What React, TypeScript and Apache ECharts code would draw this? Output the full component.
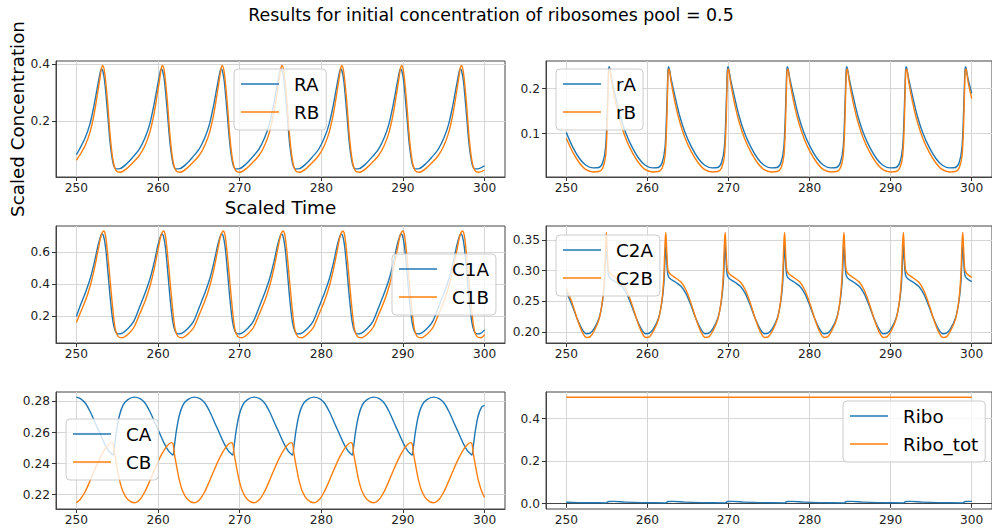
import React, { useEffect, useRef } from "react";
import * as echarts from "echarts";

const BLUE = "#1f77b4";
const ORANGE = "#ff7f0e";
const FONT = "DejaVu Sans";

// ---------- Panel 1: RA / RB ----------
const T1 = [
  250,
  250.36, 251.06, 251.66, 252.16, 252.61, 252.91, 253.06, 253.21, 253.46, 253.81, 254.16, 254.51, 254.86, 255.36, 256.16, 256.96,
  257.69, 258.39, 258.99, 259.49, 259.94, 260.24, 260.39, 260.54, 260.79, 261.14, 261.49, 261.84, 262.19, 262.69, 263.49, 264.29,
  265.01, 265.71, 266.31, 266.81, 267.26, 267.56, 267.71, 267.86, 268.11, 268.46, 268.81, 269.16, 269.51, 270.01, 270.81, 271.61,
  272.34, 273.04, 273.64, 274.14, 274.59, 274.89, 275.04, 275.19, 275.44, 275.79, 276.14, 276.49, 276.84, 277.34, 278.14, 278.94,
  279.66, 280.36, 280.96, 281.46, 281.91, 282.21, 282.36, 282.51, 282.76, 283.11, 283.46, 283.81, 284.16, 284.66, 285.46, 286.26,
  286.99, 287.69, 288.29, 288.79, 289.24, 289.54, 289.69, 289.84, 290.09, 290.44, 290.79, 291.14, 291.49, 291.99, 292.79, 293.59,
  294.31, 295.01, 295.61, 296.11, 296.56, 296.86, 297.01, 297.16, 297.41, 297.76, 298.11, 298.46, 298.81, 299.31,
  300,
];
const RA = [
  0.082,
  0.1, 0.14, 0.19, 0.255, 0.325, 0.37, 0.383, 0.378, 0.34, 0.23, 0.115, 0.05, 0.032, 0.033, 0.05, 0.075,
  0.1, 0.14, 0.19, 0.255, 0.325, 0.37, 0.383, 0.378, 0.34, 0.23, 0.115, 0.05, 0.032, 0.033, 0.05, 0.075,
  0.1, 0.14, 0.19, 0.255, 0.325, 0.37, 0.383, 0.378, 0.34, 0.23, 0.115, 0.05, 0.032, 0.033, 0.05, 0.075,
  0.1, 0.14, 0.19, 0.255, 0.325, 0.37, 0.383, 0.378, 0.34, 0.23, 0.115, 0.05, 0.032, 0.033, 0.05, 0.075,
  0.1, 0.14, 0.19, 0.255, 0.325, 0.37, 0.383, 0.378, 0.34, 0.23, 0.115, 0.05, 0.032, 0.033, 0.05, 0.075,
  0.1, 0.14, 0.19, 0.255, 0.325, 0.37, 0.383, 0.378, 0.34, 0.23, 0.115, 0.05, 0.032, 0.033, 0.05, 0.075,
  0.1, 0.14, 0.19, 0.255, 0.325, 0.37, 0.383, 0.378, 0.34, 0.23, 0.115, 0.05, 0.032, 0.033,
  0.043,
];
const RB = [
  0.062,
  0.078, 0.113, 0.16, 0.222, 0.3, 0.355, 0.384, 0.395, 0.37, 0.27, 0.14, 0.058, 0.026, 0.02, 0.033, 0.055,
  0.078, 0.113, 0.16, 0.222, 0.3, 0.355, 0.384, 0.395, 0.37, 0.27, 0.14, 0.058, 0.026, 0.02, 0.033, 0.055,
  0.078, 0.113, 0.16, 0.222, 0.3, 0.355, 0.384, 0.395, 0.37, 0.27, 0.14, 0.058, 0.026, 0.02, 0.033, 0.055,
  0.078, 0.113, 0.16, 0.222, 0.3, 0.355, 0.384, 0.395, 0.37, 0.27, 0.14, 0.058, 0.026, 0.02, 0.033, 0.055,
  0.078, 0.113, 0.16, 0.222, 0.3, 0.355, 0.384, 0.395, 0.37, 0.27, 0.14, 0.058, 0.026, 0.02, 0.033, 0.055,
  0.078, 0.113, 0.16, 0.222, 0.3, 0.355, 0.384, 0.395, 0.37, 0.27, 0.14, 0.058, 0.026, 0.02, 0.033, 0.055,
  0.078, 0.113, 0.16, 0.222, 0.3, 0.355, 0.384, 0.395, 0.37, 0.27, 0.14, 0.058, 0.026, 0.02,
  0.028,
];

// ---------- Panel 2: rA / rB ----------
const T2 = [
  250, 250.83, 251.63, 252.43, 253.33, 254.03,
  254.5, 254.85, 255.05, 255.17, 255.25, 255.35, 255.6, 256.05, 256.65, 257.35, 258.15, 258.95, 259.75, 260.65, 261.35,
  261.83, 262.18, 262.38, 262.5, 262.58, 262.68, 262.93, 263.38, 263.98, 264.68, 265.48, 266.28, 267.08, 267.98, 268.68,
  269.15, 269.5, 269.7, 269.82, 269.9, 270.0, 270.25, 270.7, 271.3, 272.0, 272.8, 273.6, 274.4, 275.3, 276.0,
  276.48, 276.83, 277.03, 277.15, 277.23, 277.33, 277.58, 278.03, 278.63, 279.33, 280.13, 280.93, 281.73, 282.63, 283.33,
  283.8, 284.15, 284.35, 284.47, 284.55, 284.65, 284.9, 285.35, 285.95, 286.65, 287.45, 288.25, 289.05, 289.95, 290.65,
  291.13, 291.48, 291.68, 291.8, 291.88, 291.98, 292.23, 292.68, 293.28, 293.98, 294.78, 295.58, 296.38, 297.28, 297.98,
  298.45, 298.8, 299.0, 299.12, 299.2, 299.3, 299.55, 300,
];
const rA = [
  0.103, 0.069, 0.045, 0.03, 0.024, 0.025,
  0.036, 0.07, 0.15, 0.22, 0.249, 0.246, 0.222, 0.185, 0.14, 0.101, 0.069, 0.045, 0.03, 0.024, 0.025,
  0.036, 0.07, 0.15, 0.22, 0.249, 0.246, 0.222, 0.185, 0.14, 0.101, 0.069, 0.045, 0.03, 0.024, 0.025,
  0.036, 0.07, 0.15, 0.22, 0.249, 0.246, 0.222, 0.185, 0.14, 0.101, 0.069, 0.045, 0.03, 0.024, 0.025,
  0.036, 0.07, 0.15, 0.22, 0.249, 0.246, 0.222, 0.185, 0.14, 0.101, 0.069, 0.045, 0.03, 0.024, 0.025,
  0.036, 0.07, 0.15, 0.22, 0.249, 0.246, 0.222, 0.185, 0.14, 0.101, 0.069, 0.045, 0.03, 0.024, 0.025,
  0.036, 0.07, 0.15, 0.22, 0.249, 0.246, 0.222, 0.185, 0.14, 0.101, 0.069, 0.045, 0.03, 0.024, 0.025,
  0.036, 0.07, 0.15, 0.22, 0.249, 0.246, 0.222, 0.19,
];
const rB = [
  0.09, 0.058, 0.035, 0.02, 0.015, 0.016,
  0.024, 0.05, 0.12, 0.2, 0.24, 0.244, 0.215, 0.172, 0.127, 0.089, 0.058, 0.035, 0.02, 0.015, 0.016,
  0.024, 0.05, 0.12, 0.2, 0.24, 0.244, 0.215, 0.172, 0.127, 0.089, 0.058, 0.035, 0.02, 0.015, 0.016,
  0.024, 0.05, 0.12, 0.2, 0.24, 0.244, 0.215, 0.172, 0.127, 0.089, 0.058, 0.035, 0.02, 0.015, 0.016,
  0.024, 0.05, 0.12, 0.2, 0.24, 0.244, 0.215, 0.172, 0.127, 0.089, 0.058, 0.035, 0.02, 0.015, 0.016,
  0.024, 0.05, 0.12, 0.2, 0.24, 0.244, 0.215, 0.172, 0.127, 0.089, 0.058, 0.035, 0.02, 0.015, 0.016,
  0.024, 0.05, 0.12, 0.2, 0.24, 0.244, 0.215, 0.172, 0.127, 0.089, 0.058, 0.035, 0.02, 0.015, 0.016,
  0.024, 0.05, 0.12, 0.2, 0.24, 0.244, 0.215, 0.178,
];

// ---------- Panel 3: C1A / C1B ----------
const T3 = [
  250,
  250.42, 251.12, 251.72, 252.22, 252.67, 252.97, 253.12, 253.32, 253.57, 253.87, 254.17, 254.47, 254.77, 255.12, 255.62, 256.32, 257.02,
  257.75, 258.45, 259.05, 259.55, 260.0, 260.3, 260.45, 260.65, 260.9, 261.2, 261.5, 261.8, 262.1, 262.45, 262.95, 263.65, 264.35,
  265.07, 265.77, 266.37, 266.87, 267.32, 267.62, 267.77, 267.97, 268.22, 268.52, 268.82, 269.12, 269.42, 269.77, 270.27, 270.97, 271.67,
  272.4, 273.1, 273.7, 274.2, 274.65, 274.95, 275.1, 275.3, 275.55, 275.85, 276.15, 276.45, 276.75, 277.1, 277.6, 278.3, 279.0,
  279.72, 280.42, 281.02, 281.52, 281.97, 282.27, 282.42, 282.62, 282.87, 283.17, 283.47, 283.77, 284.07, 284.42, 284.92, 285.62, 286.32,
  287.05, 287.75, 288.35, 288.85, 289.3, 289.6, 289.75, 289.95, 290.2, 290.5, 290.8, 291.1, 291.4, 291.75, 292.25, 292.95, 293.65,
  294.37, 295.07, 295.67, 296.17, 296.62, 296.92, 297.07, 297.27, 297.52, 297.82, 298.12, 298.42, 298.72, 299.07, 299.57,
  300,
];
const C1A = [
  0.2,
  0.26, 0.35, 0.44, 0.54, 0.645, 0.698, 0.711, 0.7, 0.63, 0.47, 0.3, 0.17, 0.108, 0.092, 0.097, 0.125, 0.17,
  0.26, 0.35, 0.44, 0.54, 0.645, 0.698, 0.711, 0.7, 0.63, 0.47, 0.3, 0.17, 0.108, 0.092, 0.097, 0.125, 0.17,
  0.26, 0.35, 0.44, 0.54, 0.645, 0.698, 0.711, 0.7, 0.63, 0.47, 0.3, 0.17, 0.108, 0.092, 0.097, 0.125, 0.17,
  0.26, 0.35, 0.44, 0.54, 0.645, 0.698, 0.711, 0.7, 0.63, 0.47, 0.3, 0.17, 0.108, 0.092, 0.097, 0.125, 0.17,
  0.26, 0.35, 0.44, 0.54, 0.645, 0.698, 0.711, 0.7, 0.63, 0.47, 0.3, 0.17, 0.108, 0.092, 0.097, 0.125, 0.17,
  0.26, 0.35, 0.44, 0.54, 0.645, 0.698, 0.711, 0.7, 0.63, 0.47, 0.3, 0.17, 0.108, 0.092, 0.097, 0.125, 0.17,
  0.26, 0.35, 0.44, 0.54, 0.645, 0.698, 0.711, 0.7, 0.63, 0.47, 0.3, 0.17, 0.108, 0.092, 0.097,
  0.117,
];
const C1B = [
  0.162,
  0.215, 0.3, 0.395, 0.5, 0.615, 0.69, 0.716, 0.73, 0.7, 0.565, 0.4, 0.24, 0.12, 0.075, 0.068, 0.09, 0.13,
  0.215, 0.3, 0.395, 0.5, 0.615, 0.69, 0.716, 0.73, 0.7, 0.565, 0.4, 0.24, 0.12, 0.075, 0.068, 0.09, 0.13,
  0.215, 0.3, 0.395, 0.5, 0.615, 0.69, 0.716, 0.73, 0.7, 0.565, 0.4, 0.24, 0.12, 0.075, 0.068, 0.09, 0.13,
  0.215, 0.3, 0.395, 0.5, 0.615, 0.69, 0.716, 0.73, 0.7, 0.565, 0.4, 0.24, 0.12, 0.075, 0.068, 0.09, 0.13,
  0.215, 0.3, 0.395, 0.5, 0.615, 0.69, 0.716, 0.73, 0.7, 0.565, 0.4, 0.24, 0.12, 0.075, 0.068, 0.09, 0.13,
  0.215, 0.3, 0.395, 0.5, 0.615, 0.69, 0.716, 0.73, 0.7, 0.565, 0.4, 0.24, 0.12, 0.075, 0.068, 0.09, 0.13,
  0.215, 0.3, 0.395, 0.5, 0.615, 0.69, 0.716, 0.73, 0.7, 0.565, 0.4, 0.24, 0.12, 0.075, 0.068,
  0.087,
];

// ---------- Panel 4: C2A / C2B ----------
const T4 = [
  250, 250.73, 251.33, 251.93, 252.48, 252.93,
  253.45, 254.05, 254.45, 254.7, 254.85, 254.95, 255.05, 255.2, 255.45, 256.15, 256.85, 257.45, 258.05, 258.65, 259.25, 259.8, 260.25,
  260.78, 261.38, 261.78, 262.03, 262.18, 262.28, 262.38, 262.53, 262.78, 263.48, 264.18, 264.78, 265.38, 265.98, 266.58, 267.13, 267.58,
  268.1, 268.7, 269.1, 269.35, 269.5, 269.6, 269.7, 269.85, 270.1, 270.8, 271.5, 272.1, 272.7, 273.3, 273.9, 274.45, 274.9,
  275.43, 276.03, 276.43, 276.68, 276.83, 276.93, 277.03, 277.18, 277.43, 278.13, 278.83, 279.43, 280.03, 280.63, 281.23, 281.78, 282.23,
  282.75, 283.35, 283.75, 284.0, 284.15, 284.25, 284.35, 284.5, 284.75, 285.45, 286.15, 286.75, 287.35, 287.95, 288.55, 289.1, 289.55,
  290.08, 290.68, 291.08, 291.33, 291.48, 291.58, 291.68, 291.83, 292.08, 292.78, 293.48, 294.08, 294.68, 295.28, 295.88, 296.43, 296.88,
  297.4, 298.0, 298.4, 298.65, 298.8, 298.9, 299.0, 299.15, 299.4, 300,
];
const C2A = [
  0.265, 0.243, 0.222, 0.205, 0.197, 0.198,
  0.206, 0.223, 0.248, 0.278, 0.32, 0.342, 0.318, 0.293, 0.287, 0.281, 0.274, 0.262, 0.243, 0.222, 0.205, 0.197, 0.198,
  0.206, 0.223, 0.248, 0.278, 0.32, 0.342, 0.318, 0.293, 0.287, 0.281, 0.274, 0.262, 0.243, 0.222, 0.205, 0.197, 0.198,
  0.206, 0.223, 0.248, 0.278, 0.32, 0.342, 0.318, 0.293, 0.287, 0.281, 0.274, 0.262, 0.243, 0.222, 0.205, 0.197, 0.198,
  0.206, 0.223, 0.248, 0.278, 0.32, 0.342, 0.318, 0.293, 0.287, 0.281, 0.274, 0.262, 0.243, 0.222, 0.205, 0.197, 0.198,
  0.206, 0.223, 0.248, 0.278, 0.32, 0.342, 0.318, 0.293, 0.287, 0.281, 0.274, 0.262, 0.243, 0.222, 0.205, 0.197, 0.198,
  0.206, 0.223, 0.248, 0.278, 0.32, 0.342, 0.318, 0.293, 0.287, 0.281, 0.274, 0.262, 0.243, 0.222, 0.205, 0.197, 0.198,
  0.206, 0.223, 0.248, 0.278, 0.32, 0.342, 0.318, 0.293, 0.287, 0.282,
];
const C2B = [
  0.271, 0.247, 0.222, 0.201, 0.191, 0.192,
  0.202, 0.221, 0.25, 0.29, 0.345, 0.362, 0.335, 0.302, 0.295, 0.288, 0.281, 0.268, 0.247, 0.222, 0.201, 0.191, 0.192,
  0.202, 0.221, 0.25, 0.29, 0.345, 0.362, 0.335, 0.302, 0.295, 0.288, 0.281, 0.268, 0.247, 0.222, 0.201, 0.191, 0.192,
  0.202, 0.221, 0.25, 0.29, 0.345, 0.362, 0.335, 0.302, 0.295, 0.288, 0.281, 0.268, 0.247, 0.222, 0.201, 0.191, 0.192,
  0.202, 0.221, 0.25, 0.29, 0.345, 0.362, 0.335, 0.302, 0.295, 0.288, 0.281, 0.268, 0.247, 0.222, 0.201, 0.191, 0.192,
  0.202, 0.221, 0.25, 0.29, 0.345, 0.362, 0.335, 0.302, 0.295, 0.288, 0.281, 0.268, 0.247, 0.222, 0.201, 0.191, 0.192,
  0.202, 0.221, 0.25, 0.29, 0.345, 0.362, 0.335, 0.302, 0.295, 0.288, 0.281, 0.268, 0.247, 0.222, 0.201, 0.191, 0.192,
  0.202, 0.221, 0.25, 0.29, 0.345, 0.362, 0.335, 0.302, 0.295, 0.289,
];

// ---------- Panel 5: CA / CB ----------
const T5 = [
  250, 250.48, 251.08, 251.68, 252.28, 252.88, 253.48, 253.98, 254.33,
  254.5, 254.65, 254.9, 255.25, 255.7, 256.3, 257.1, 257.8, 258.4, 259.0, 259.6, 260.2, 260.8, 261.3, 261.65,
  261.83, 261.98, 262.23, 262.58, 263.03, 263.63, 264.43, 265.13, 265.73, 266.33, 266.93, 267.53, 268.13, 268.63, 268.98,
  269.15, 269.3, 269.55, 269.9, 270.35, 270.95, 271.75, 272.45, 273.05, 273.65, 274.25, 274.85, 275.45, 275.95, 276.3,
  276.48, 276.63, 276.88, 277.23, 277.68, 278.28, 279.08, 279.78, 280.38, 280.98, 281.58, 282.18, 282.78, 283.28, 283.63,
  283.8, 283.95, 284.2, 284.55, 285.0, 285.6, 286.4, 287.1, 287.7, 288.3, 288.9, 289.5, 290.1, 290.6, 290.95,
  291.13, 291.28, 291.53, 291.88, 292.33, 292.93, 293.73, 294.43, 295.03, 295.63, 296.23, 296.83, 297.43, 297.93, 298.28,
  298.45, 298.6, 298.85, 299.2, 299.65, 300,
];
const CA = [
  0.2828, 0.2818, 0.279, 0.2735, 0.2665, 0.2595, 0.2525, 0.248, 0.2462,
  0.2455, 0.2505, 0.2605, 0.2705, 0.2775, 0.2812, 0.2828, 0.2818, 0.279, 0.2735, 0.2665, 0.2595, 0.2525, 0.248, 0.2462,
  0.2455, 0.2505, 0.2605, 0.2705, 0.2775, 0.2812, 0.2828, 0.2818, 0.279, 0.2735, 0.2665, 0.2595, 0.2525, 0.248, 0.2462,
  0.2455, 0.2505, 0.2605, 0.2705, 0.2775, 0.2812, 0.2828, 0.2818, 0.279, 0.2735, 0.2665, 0.2595, 0.2525, 0.248, 0.2462,
  0.2455, 0.2505, 0.2605, 0.2705, 0.2775, 0.2812, 0.2828, 0.2818, 0.279, 0.2735, 0.2665, 0.2595, 0.2525, 0.248, 0.2462,
  0.2455, 0.2505, 0.2605, 0.2705, 0.2775, 0.2812, 0.2828, 0.2818, 0.279, 0.2735, 0.2665, 0.2595, 0.2525, 0.248, 0.2462,
  0.2455, 0.2505, 0.2605, 0.2705, 0.2775, 0.2812, 0.2828, 0.2818, 0.279, 0.2735, 0.2665, 0.2595, 0.2525, 0.248, 0.2462,
  0.2455, 0.2505, 0.2605, 0.2705, 0.2765, 0.2775,
];
const CB = [
  0.2148, 0.217, 0.222, 0.229, 0.2365, 0.2435, 0.2492, 0.2525, 0.2535,
  0.2528, 0.247, 0.2395, 0.23, 0.222, 0.2168, 0.2147, 0.217, 0.222, 0.229, 0.2365, 0.2435, 0.2492, 0.2525, 0.2535,
  0.2528, 0.247, 0.2395, 0.23, 0.222, 0.2168, 0.2147, 0.217, 0.222, 0.229, 0.2365, 0.2435, 0.2492, 0.2525, 0.2535,
  0.2528, 0.247, 0.2395, 0.23, 0.222, 0.2168, 0.2147, 0.217, 0.222, 0.229, 0.2365, 0.2435, 0.2492, 0.2525, 0.2535,
  0.2528, 0.247, 0.2395, 0.23, 0.222, 0.2168, 0.2147, 0.217, 0.222, 0.229, 0.2365, 0.2435, 0.2492, 0.2525, 0.2535,
  0.2528, 0.247, 0.2395, 0.23, 0.222, 0.2168, 0.2147, 0.217, 0.222, 0.229, 0.2365, 0.2435, 0.2492, 0.2525, 0.2535,
  0.2528, 0.247, 0.2395, 0.23, 0.222, 0.2168, 0.2147, 0.217, 0.222, 0.229, 0.2365, 0.2435, 0.2492, 0.2525, 0.2535,
  0.2528, 0.247, 0.2395, 0.23, 0.222, 0.2182,
];

// ---------- Panel 6: Ribo / Ribo_tot ----------
const T6 = [
  250, 251.5, 253, 254.9, 255.25, 255.85, 257.25, 259.25,
  262.25, 262.58, 263.18, 264.58, 266.58,
  269.6, 269.9, 270.5, 271.9, 273.9,
  276.93, 277.23, 277.83, 279.23, 281.23,
  284.25, 284.55, 285.15, 286.55, 288.55,
  291.58, 291.88, 292.48, 293.88, 295.88,
  298.9, 299.2, 299.8, 300,
];
const RIBO = [
  0.0065, 0.005, 0.0042, 0.004, 0.0105, 0.011, 0.0075, 0.005,
  0.004, 0.0105, 0.011, 0.0075, 0.005,
  0.004, 0.0105, 0.011, 0.0075, 0.005,
  0.004, 0.0105, 0.011, 0.0075, 0.005,
  0.004, 0.0105, 0.011, 0.0075, 0.005,
  0.004, 0.0105, 0.011, 0.0075, 0.005,
  0.004, 0.0105, 0.011, 0.0108,
];
const T_TOT = [250, 300];
const RIBO_TOT = [0.5, 0.5];

// ---------- Axes ----------
const X_TICKS = [250, 260, 270, 280, 290, 300];
const Y_TICKS = [
  [0.2, 0.4],
  [0.1, 0.2],
  [0.2, 0.4, 0.6],
  [0.2, 0.25, 0.3, 0.35],
  [0.22, 0.24, 0.26, 0.28],
  [0.0, 0.2, 0.4],
];
const Y_DEC = [1, 1, 1, 2, 2, 1];
const Y_RANGE = [
  [0.0035, 0.4105],
  [0.0038, 0.2616],
  [0.0355, 0.761],
  [0.182, 0.3727],
  [0.2107, 0.2861],
  [-0.025, 0.525],
];

const pair = (t: number[], v: number[]) => t.map((x, i) => [x, v[i]]);

export default function App() {
  const ref = useRef<HTMLDivElement>(null);
  useEffect(() => {
    const chart = echarts.init(ref.current!, null, { renderer: "svg" });
    const gridPos = [
      { left: 56, top: 61, width: 449, height: 116 },
      { left: 546, top: 61, width: 449, height: 116 },
      { left: 56, top: 226, width: 449, height: 117 },
      { left: 546, top: 226, width: 449, height: 117 },
      { left: 56, top: 392, width: 449, height: 117 },
      { left: 546, top: 392, width: 449, height: 117 },
    ];
    const grid = gridPos.map((g) => ({
      ...g,
      show: true,
      borderColor: "#444",
      borderWidth: 1,
      backgroundColor: "transparent",
    }));
    const labelStyle = { fontSize: 12.2, fontFamily: FONT, color: "#222" };
    const xAxis = gridPos.map((_, i) => ({
      gridIndex: i,
      type: "value",
      min: 247.5,
      max: 302.5,
      axisLine: { show: true, lineStyle: { color: "#444", width: 1 } },
      axisTick: { show: true, inside: false, length: 4, customValues: X_TICKS, lineStyle: { color: "#333" } },
      axisLabel: { ...labelStyle, margin: 5, customValues: X_TICKS, formatter: (v: number) => String(Math.round(v)) },
      splitLine: { show: true, lineStyle: { color: "#d6d6d6", width: 1 } },
    }));
    const yAxis = gridPos.map((_, i) => ({
      gridIndex: i,
      type: "value",
      min: Y_RANGE[i][0],
      max: Y_RANGE[i][1],
      axisLine: { show: true, lineStyle: { color: "#444", width: 1 } },
      axisTick: { show: true, inside: false, length: 4, customValues: Y_TICKS[i], lineStyle: { color: "#333" } },
      axisLabel: { ...labelStyle, margin: 6, customValues: Y_TICKS[i], formatter: (v: number) => v.toFixed(Y_DEC[i]) },
      splitLine: { show: true, lineStyle: { color: "#d6d6d6", width: 1 } },
    }));
    const mk = (name: string, color: string, t: number[], v: number[], idx: number) => ({
      name,
      type: "line",
      xAxisIndex: idx,
      yAxisIndex: idx,
      data: pair(t, v),
      showSymbol: false,
      symbol: "none",
      smooth: 0.3,
      color,
      lineStyle: { color, width: 1.4 },
      emphasis: { disabled: true },
    });
    const series = [
      mk("RA", BLUE, T1, RA, 0),
      mk("RB", ORANGE, T1, RB, 0),
      mk("rA", BLUE, T2, rA, 1),
      mk("rB", ORANGE, T2, rB, 1),
      mk("C1A", BLUE, T3, C1A, 2),
      mk("C1B", ORANGE, T3, C1B, 2),
      mk("C2A", BLUE, T4, C2A, 3),
      mk("C2B", ORANGE, T4, C2B, 3),
      mk("CA", BLUE, T5, CA, 4),
      mk("CB", ORANGE, T5, CB, 4),
      mk("Ribo", BLUE, T6, RIBO, 5),
      mk("Ribo_tot", ORANGE, T_TOT, RIBO_TOT, 5),
    ];
    const legendPos = [
      { left: 234, top: 69, data: ["RA", "RB"] },
      { left: 556, top: 69, data: ["rA", "rB"] },
      { left: 392, top: 254, data: ["C1A", "C1B"] },
      { left: 556, top: 235, data: ["C2A", "C2B"] },
      { left: 66, top: 419, data: ["CA", "CB"] },
      { left: 843, top: 401, data: ["Ribo", "Ribo_tot"] },
    ];
    const legend = legendPos.map((l) => ({
      ...l,
      orient: "vertical",
      icon: "rect",
      itemWidth: 38,
      itemHeight: 1.4,
      itemGap: 6,
      padding: [4, 7, 7, 7],
      backgroundColor: "rgba(255,255,255,0.8)",
      borderColor: "#cccccc",
      borderWidth: 1,
      borderRadius: 4,
      selectedMode: false,
      textStyle: { fontSize: 18.3, fontFamily: FONT, color: "#000", lineHeight: 22, padding: [0, 0, 0, 10] },
    }));
    const txt = { fontFamily: FONT, fill: "#000", align: "center", verticalAlign: "middle" };
    const option = {
      animation: false,
      backgroundColor: "#fff",
      grid,
      xAxis,
      yAxis,
      series,
      legend,
      graphic: [
        { type: "text", x: 491, y: 15, style: { ...txt, text: "Results for initial concentration of ribosomes pool = 0.5", fontSize: 17.4 } },
        { type: "text", x: 280.5, y: 207, style: { ...txt, text: "Scaled Time", fontSize: 18.3 } },
        { type: "text", x: 17, y: 119, rotation: Math.PI / 2, style: { ...txt, text: "Scaled Concentration", fontSize: 18.3 } },
      ],
    };
    chart.setOption(option as any);
    return () => chart.dispose();
  }, []);
  return <div ref={ref} style={{ position: "absolute", left: 0, top: 0, width: 992, height: 530 }} />;
}
